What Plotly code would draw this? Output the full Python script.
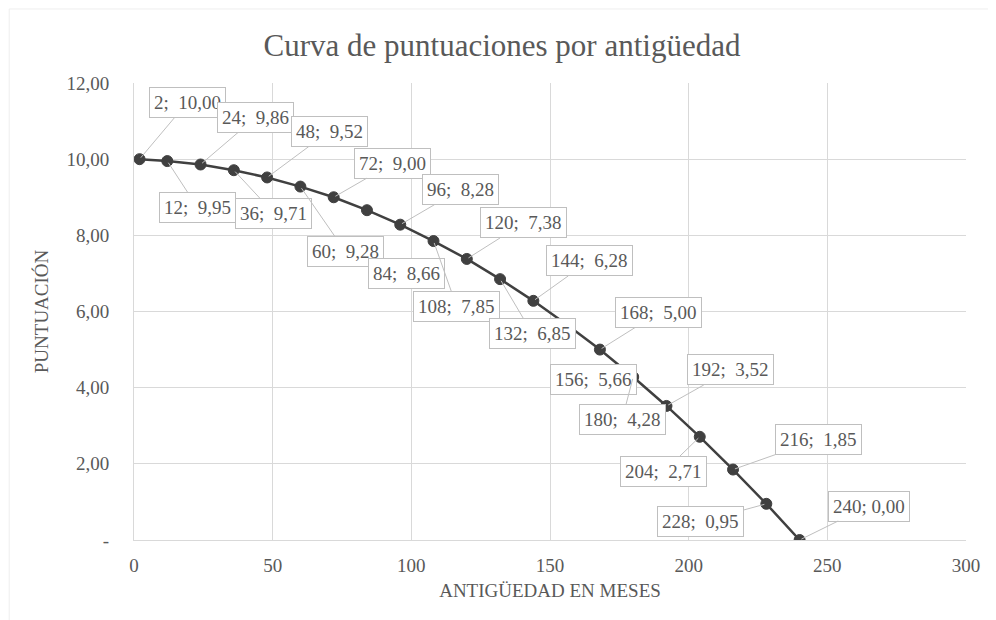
import plotly.graph_objects as go

# Data
meses = [2, 12, 24, 36, 48, 60, 72, 84, 96, 108, 120, 132, 144, 156, 168, 180, 192, 204, 216, 228, 240]
puntuacion = [10.00, 9.95, 9.86, 9.71, 9.52, 9.28, 9.00, 8.66, 8.28, 7.85, 7.38, 6.85, 6.28, 5.66,
              5.00, 4.28, 3.52, 2.71, 1.85, 0.95, 0.00]
y_tickvals = [0, 2, 4, 6, 8, 10, 12]
y_ticktext = ["-", "2,00", "4,00", "6,00", "8,00", "10,00", "12,00"]
x_tickvals = [0, 50, 100, 150, 200, 250, 300]

# callout pixel offsets (style/layout)
offsets = [(48, -57), (30, 46), (55, -47), (40, 43), (62, -46), (45, 65), (59, -34), (40, 63),
           (60, -35), (23, 65), (57, -36), (32, 54), (56, -40), (27, 55), (59, -37), (-11, 42),
           (64, -36), (-36, 35), (85, -30), (-66, 18), (69, -34)]

FONT = "Liberation Serif"
TXT = "#595959"
GRID = "#d9d9d9"

fig = go.Figure()
fig.add_trace(go.Scatter(
    x=meses, y=puntuacion, mode="lines+markers",
    line=dict(color="#404040", width=2.5),
    marker=dict(symbol="circle", size=11, color="#404040", line=dict(color="#404040", width=1)),
    hoverinfo="x+y", showlegend=False,
))

def fmt(v):
    return f"{v:.2f}".replace(".", ",")

annotations = []
for (xv, yv), (ax, ay) in zip(zip(meses, puntuacion), offsets):
    sep = "; " if xv == 240 else ";  "
    annotations.append(dict(
        x=xv, y=yv, xref="x", yref="y",
        text=f"{xv}{sep}{fmt(yv)}",
        showarrow=True, arrowhead=0, arrowwidth=1, arrowcolor="#bfbfbf",
        ax=ax, ay=ay, standoff=2,
        bgcolor="white", bordercolor="#bfbfbf", borderwidth=1, borderpad=4,
        font=dict(family=FONT, size=19, color=TXT),
    ))

fig.update_layout(
    width=988, height=612,
    margin=dict(l=126, r=30, t=75, b=80),
    paper_bgcolor="white", plot_bgcolor="white",
    font=dict(family=FONT, color=TXT),
    title=dict(text="Curva de puntuaciones por antigüedad", x=0.5, xanchor="center",
               y=0.94, yanchor="middle", font=dict(family=FONT, size=31, color=TXT)),
    annotations=annotations,
    shapes=[
        dict(type="line", xref="paper", yref="paper", x0=-0.15, x1=1.05, y0=1.162, y1=1.162,
             line=dict(color="#eeeeee", width=1)),
        dict(type="line", xref="paper", yref="paper", x0=-0.15, x1=-0.15, y0=1.162, y1=-0.2,
             line=dict(color="#eeeeee", width=1)),
    ],
)
fig.update_xaxes(
    range=[0, 300], tickvals=x_tickvals, showgrid=True, gridcolor=GRID, gridwidth=1,
    zeroline=False, showline=True, linecolor=GRID, linewidth=1, mirror=False,
    ticks="", tickfont=dict(family=FONT, size=19, color=TXT), ticklabelstandoff=8,
    title=dict(text="ANTIGÜEDAD EN MESES", font=dict(family=FONT, size=19, color=TXT), standoff=8),
)
fig.update_yaxes(
    range=[0, 12], tickvals=y_tickvals, ticktext=y_ticktext, showgrid=True, gridcolor=GRID, gridwidth=1,
    zeroline=False, showline=True, linecolor=GRID, linewidth=1,
    ticks="", tickfont=dict(family=FONT, size=19, color=TXT), ticklabelstandoff=20,
    title=dict(text="PUNTUACIÓN", font=dict(family=FONT, size=19, color=TXT), standoff=12),
)

fig.write_html("out.html")
